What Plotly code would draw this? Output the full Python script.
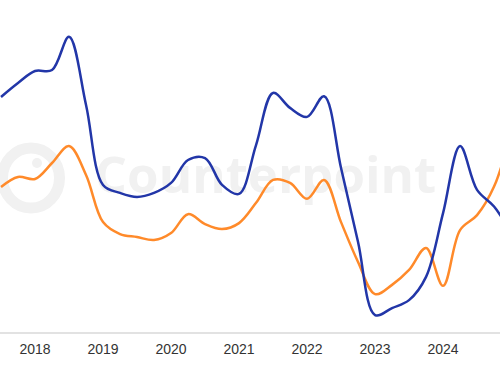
import plotly.graph_objects as go

quarters = [
    "Q3 2017", "Q4 2017",
    "Q1 2018", "Q2 2018", "Q3 2018", "Q4 2018",
    "Q1 2019", "Q2 2019", "Q3 2019", "Q4 2019",
    "Q1 2020", "Q2 2020", "Q3 2020", "Q4 2020",
    "Q1 2021", "Q2 2021", "Q3 2021", "Q4 2021",
    "Q1 2022", "Q2 2022", "Q3 2022", "Q4 2022",
    "Q1 2023", "Q2 2023", "Q3 2023", "Q4 2023",
    "Q1 2024", "Q2 2024", "Q3 2024", "Q4 2024",
    "Q1 2025",
]

# values (arbitrary units, 0-100 scale)
blue_values = [
    70.8, 75.0,
    78.6, 78.9, 88.9, 68.4,
    44.3, 41.9, 40.7, 41.9,
    44.9, 51.8, 52.4, 44.3,
    41.6, 56.3, 72.0, 67.5,
    64.8, 71.0, 49.4, 27.1,
    5.1, 7.2, 9.6, 16.6,
    35.8, 56.0, 42.8, 37.8,
    30.0,
]
orange_values = [
    43.7, 46.7,
    46.1, 50.9, 56.0, 47.3,
    33.1, 29.5, 28.6, 27.7,
    29.8, 35.5, 32.5, 31.0,
    32.8, 38.9, 45.8, 44.9,
    40.1, 45.8, 33.1, 21.1,
    11.4, 14.2, 18.7, 25.3,
    13.9, 30.7, 35.2, 43.8,
    60.0,
]

x_idx = list(range(len(quarters)))
tick_vals = [i for i, q in enumerate(quarters) if q.startswith("Q1") and i < 29]
tick_text = [quarters[i].split(" ")[1] for i in tick_vals]

WM = "#f1f1f1"

fig = go.Figure()

# watermark text (drawn below lines)
fig.add_trace(go.Scatter(
    x=[15.55], y=[45.8], mode="text", text=["Counterpoint"],
    textposition="middle center",
    textfont=dict(family="Open Sans", size=51, color=WM, weight="bold"),
    hoverinfo="skip", showlegend=False,
))

fig.add_trace(go.Scatter(
    x=x_idx, y=orange_values, mode="lines",
    line=dict(color="#ff8a2a", width=2.5, shape="spline", smoothing=1),
    showlegend=False,
))
fig.add_trace(go.Scatter(
    x=x_idx, y=blue_values, mode="lines",
    line=dict(color="#2236a8", width=2.5, shape="spline", smoothing=1),
    showlegend=False,
))

# watermark logo ring
def px_x(p):
    return p / 500.0

def px_y(p):
    return 1 - p / 332.0

fig.add_shape(type="circle", xref="paper", yref="paper", layer="below",
              x0=px_x(31 - 28.5), x1=px_x(31 + 28.5),
              y0=px_y(178 + 30), y1=px_y(178 - 30),
              line=dict(color=WM, width=11))
fig.add_shape(type="circle", xref="paper", yref="paper", layer="below",
              x0=px_x(32), x1=px_x(42), y0=px_y(168), y1=px_y(158),
              fillcolor=WM, line=dict(color=WM, width=0))

fig.update_layout(
    width=500, height=383,
    margin=dict(l=0, r=0, t=0, b=51),
    paper_bgcolor="white", plot_bgcolor="white",
    xaxis=dict(
        range=[-0.06, 29.35],
        tickmode="array", tickvals=tick_vals, ticktext=tick_text,
        showgrid=False, zeroline=False,
        showline=True, linecolor="#e2e2e2", linewidth=2,
        ticks="", ticklabelstandoff=3,
        tickfont=dict(family="Liberation Sans", size=14, color="#333333"),
    ),
    yaxis=dict(range=[0, 100], visible=False),
)

fig.write_html("out.html", config={"displayModeBar": False},
               post_script="document.body.style.margin='0';")
